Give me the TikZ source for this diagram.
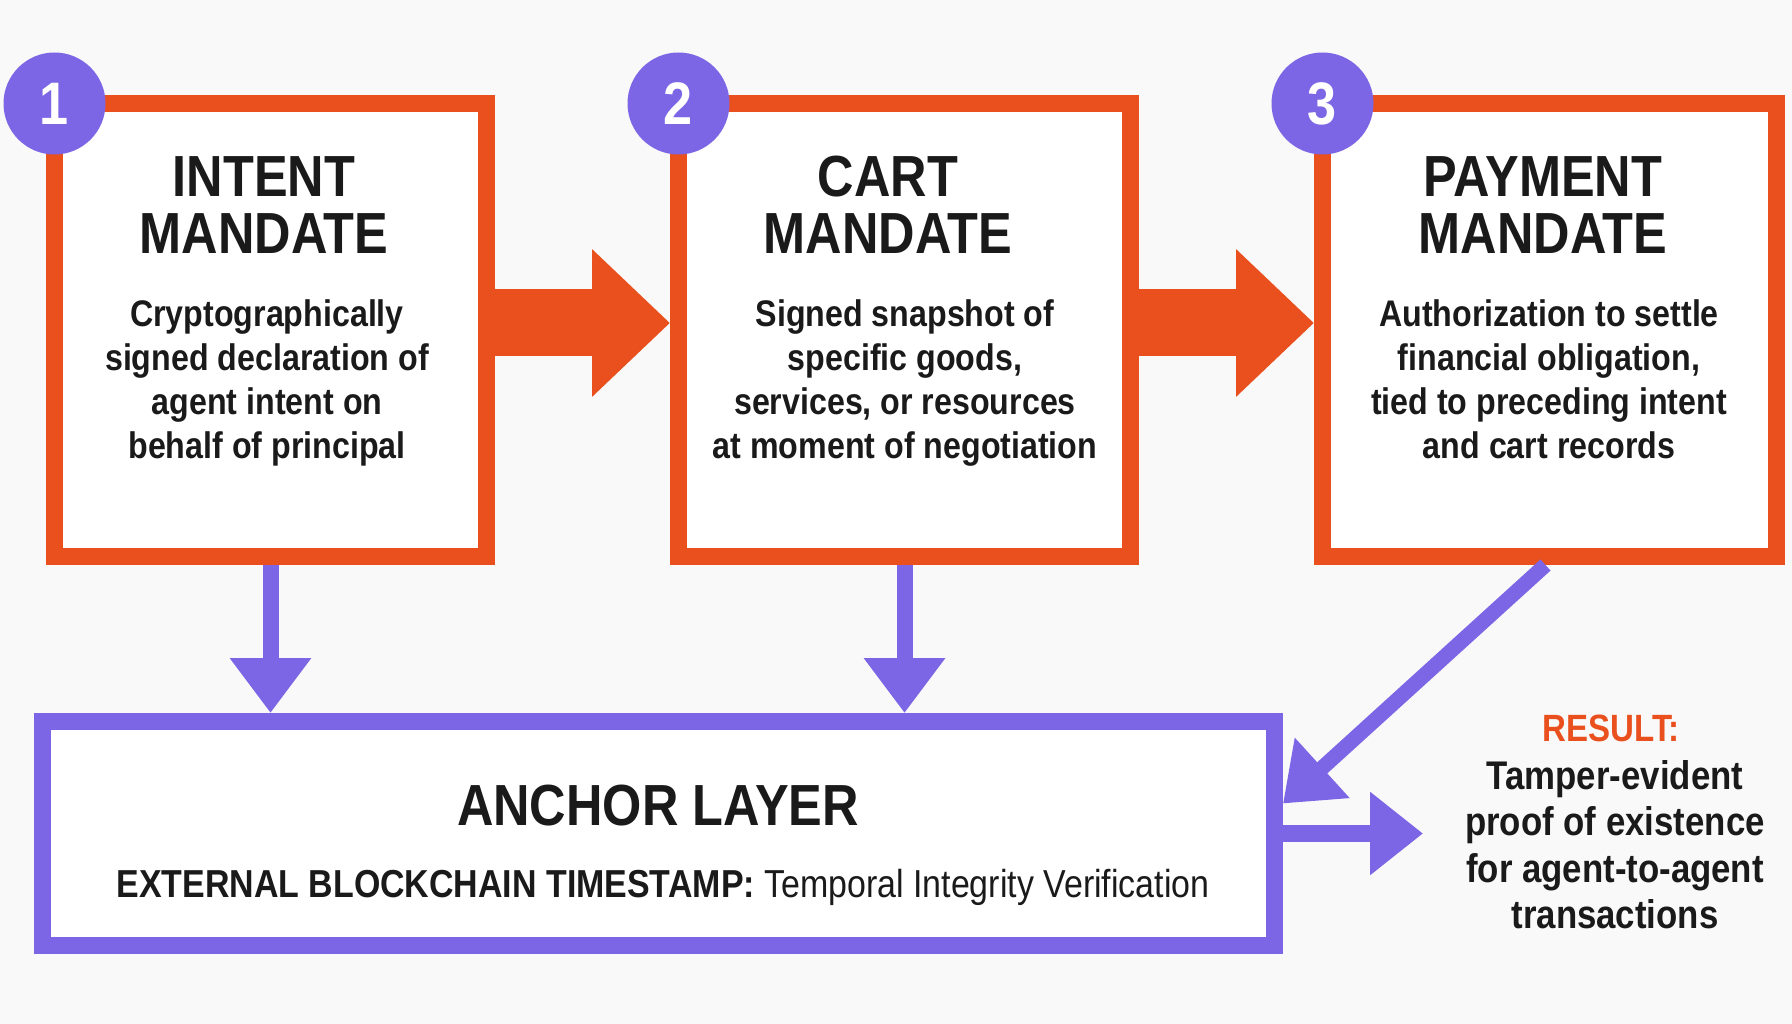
\documentclass[tikz,border=0pt]{standalone}
\usepackage{fontspec}
\setmainfont{Liberation Sans}[FakeStretch=0.87]
\usetikzlibrary{arrows.meta,calc}
\definecolor{org}{RGB}{233,80,30}
\definecolor{pur}{RGB}{124,102,230}
\definecolor{ink}{RGB}{26,26,26}
\definecolor{bg}{RGB}{249,249,249}
\begin{document}
\begin{tikzpicture}[x=1pt,y=-1pt,
  mandate/.style={draw=org, line width=17pt, fill=white, inner sep=0pt, minimum height=453pt, minimum width=#1},
  anchorbox/.style={draw=pur, line width=17pt, fill=white, inner sep=0pt, minimum height=224pt, minimum width=1232pt},
  numdot/.style={circle, fill=pur, inner sep=0pt, minimum size=102pt, text=white, font=\fontsize{60}{60}\selectfont\bfseries},
  ttl/.style={anchor=base, align=center, text=ink, inner sep=0pt, font=\fontsize{58}{57}\selectfont\bfseries},
  bodytxt/.style={anchor=base, align=center, text=ink, inner sep=0pt, font=\fontsize{37}{44}\selectfont\bfseries},
  orarrow/.style={draw=org, line width=67pt, -{Triangle[length=78pt,width=143pt]}},
  pdown/.style={draw=pur, line width=16pt, -{Triangle[length=55pt,width=78pt]}},
  pdiag/.style={draw=pur, line width=15pt, -{Triangle[length=53pt,width=78pt]}},
  pright/.style={draw=pur, line width=17pt, -{Triangle[length=53pt,width=80pt]}}
]
\fill[bg] (0,0) rectangle (1792,1024);
\useasboundingbox (0,0) rectangle (1792,1024);

% mandate boxes
\node[mandate=432pt] (b1) at (270.5,330) {};
\node[mandate=452pt] (b2) at (904.5,330) {};
\node[mandate=454pt] (b3) at (1549.5,330) {};
% anchor box
\node[anchorbox] (anchor) at (658.5,833.5) {};

% numbered circles
\node[numdot] (c1) at ($(b1.north west)+(8.5,8.5)$) {1};
\node[numdot] (c2) at ($(b2.north west)+(8.5,8.5)$) {2};
\node[numdot] (c3) at ($(b3.north west)+(8.5,8.5)$) {3};

% titles (anchor = baseline of last line)
\node[ttl] (t1) at (264,254) {INTENT\\MANDATE};
\node[ttl] (t2) at (888,254) {CART\\MANDATE};
\node[ttl] (t3) at (1543,254) {PAYMENT\\MANDATE};

% bodies (anchor = baseline of last line)
\node[bodytxt] (d1) at (267,458) {Cryptographically\\signed declaration of\\agent intent on\\behalf of principal};
\node[bodytxt] (d2) at (905,458) {Signed snapshot of\\specific goods,\\services, or resources\\at moment of negotiation};
\node[bodytxt] (d3) at (1549,458) {Authorization to settle\\financial obligation,\\tied to preceding intent\\and cart records};

% anchor texts
\node[anchor=base, text=ink, inner sep=0pt, font=\fontsize{58}{57}\selectfont\bfseries] (at) at (658,825) {ANCHOR LAYER};
\node[anchor=base, text=ink, inner sep=0pt, font=\fontsize{39}{44}\selectfont] (as) at (663,897) {{\bfseries EXTERNAL BLOCKCHAIN TIMESTAMP:} Temporal Integrity Verification};

% result
\node[anchor=base, text=org, inner sep=0pt, font=\fontsize{38}{44}\selectfont\bfseries] (rh) at (1611,741) {RESULT:};
\node[anchor=base, align=center, text=ink, inner sep=0pt, font=\fontsize{40}{46.5}\selectfont\bfseries] (res) at (1615,928.5) {Tamper-evident\\proof of existence\\for agent-to-agent\\transactions};

% connectors
\draw[orarrow] ($(b1.east)+(0,-7)$) -- ($(b2.west)+(0,-7)$);
\draw[orarrow] ($(b2.east)+(0,-7)$) -- ($(b3.west)+(0,-7)$);
\draw[pdown] (b1.south) -- (b1.south |- anchor.north);
\draw[pdown] (b2.south) -- (b2.south |- anchor.north);
\coordinate (dtip) at ($(anchor.east)+(0,-30)$);
\draw[pdiag] ($(b3.south)+(-4,0)$) -- (dtip);
\coordinate (rtip) at (1423,833.5);
\draw[pright] (anchor.east) -- (rtip);
\end{tikzpicture}
\end{document}
